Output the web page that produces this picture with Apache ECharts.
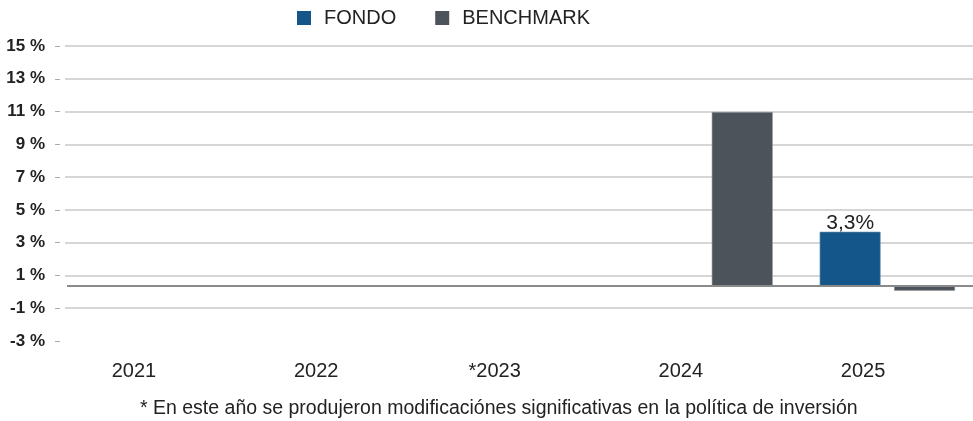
<!DOCTYPE html>
<html>
<head>
<meta charset="utf-8">
<script src="https://cdn.jsdelivr.net/npm/echarts@6/dist/echarts.min.js"></script>
<style>
  html, body { margin: 0; padding: 0; background: #fff; overflow: hidden; }
  /* a little wider than the window: the last bar group runs past the right edge */
  #chart0 { width: 980px; height: 421px; }
</style>
</head>
<body>
<div id="chart0"></div>
<script>
var years = ['2021', '2022', '*2023', '2024', '2025']
var fondo = ['-', '-', '-', '-', 3.3]
var benchmark = ['-', '-', '-', 10.6, -0.3]
var nota = '* En este año se produjeron modificaciónes significativas en la política de inversión'

var chart0 = echarts.init(document.getElementById('chart0'))
var option0 = {
  animation: false,
  textStyle: {
    fontFamily: 'Liberation Sans, Arial, sans-serif'
  },
  title: {
    text: nota,
    left: 140,
    top: 399,
    padding: 0,
    textStyle: {
      fontSize: 19.5,
      fontWeight: 'normal',
      color: '#222'
    }
  },
  legend: {
    top: 8,
    left: 297,
    padding: 0,
    itemWidth: 14,
    itemHeight: 14,
    itemGap: 39,
    icon: 'rect',
    itemStyle: { borderWidth: 0 },
    textStyle: {
      fontSize: 20,
      color: '#222',
      padding: [0, 0, 0, 8]
    },
    data: ['FONDO', 'BENCHMARK']
  },
  grid: [
    // grid 0: y axis labels and split lines
    { left: 65, right: 7, top: 46, bottom: 80 },
    // grid 1: bars and category axis
    { left: 67, right: 1.5, top: 46, bottom: 80 }
  ],
  xAxis: [{
    type: 'category',
    gridIndex: 0,
    data: years,
    show: false
  }, {
    type: 'category',
    gridIndex: 1,
    data: years,
    offset: 6,
    axisLine: { show: false, onZero: false },
    axisTick: { alignWithLabel: true, length: 6, lineStyle: { color: '#bbb' } },
    axisLabel: {
      align: 'right',
      margin: 14,
      padding: [0, 2, 0, 0],
      fontSize: 20,
      color: '#222'
    }
  }],
  yAxis: [{
    type: 'value',
    gridIndex: 0,
    min: -3,
    max: 15,
    interval: 2,
    offset: 5,
    axisLine: { show: false },
    axisTick: { show: true, length: 5, lineStyle: { color: '#aaa' } },
    axisLabel: {
      formatter: '{value} %',
      margin: 15,
      fontSize: 17,
      fontWeight: 'bold',
      color: '#222'
    },
    splitLine: {
      showMinLine: false,
      lineStyle: { color: '#c8c8c8', width: 1.5 }
    }
  }, {
    type: 'value',
    gridIndex: 1,
    min: -3.37,
    max: 14.63,
    show: false,
    splitLine: { show: false }
  }],
  series: [{
    name: 'FONDO',
    type: 'bar',
    xAxisIndex: 1,
    yAxisIndex: 1,
    barWidth: 61,
    barGap: '22%',
    itemStyle: { color: '#14568a', borderColor: '#7c9cb8', borderWidth: 0.6 },
    label: {
      show: true,
      position: 'top',
      distance: -2,
      fontSize: 21,
      color: '#222',
      formatter: function (p) { return String(p.value).replace('.', ',') + '%' }
    },
    markLine: {
      silent: true,
      symbol: 'none',
      label: { show: false },
      lineStyle: { color: '#8a8a8a', width: 2, type: 'solid' },
      data: [{ yAxis: 0 }]
    },
    data: fondo
  }, {
    name: 'BENCHMARK',
    type: 'bar',
    xAxisIndex: 1,
    yAxisIndex: 1,
    barWidth: 61,
    itemStyle: { color: '#4c535a', borderColor: '#999', borderWidth: 0.6 },
    data: benchmark
  }]
}
chart0.setOption(option0)
</script>
</body>
</html>
